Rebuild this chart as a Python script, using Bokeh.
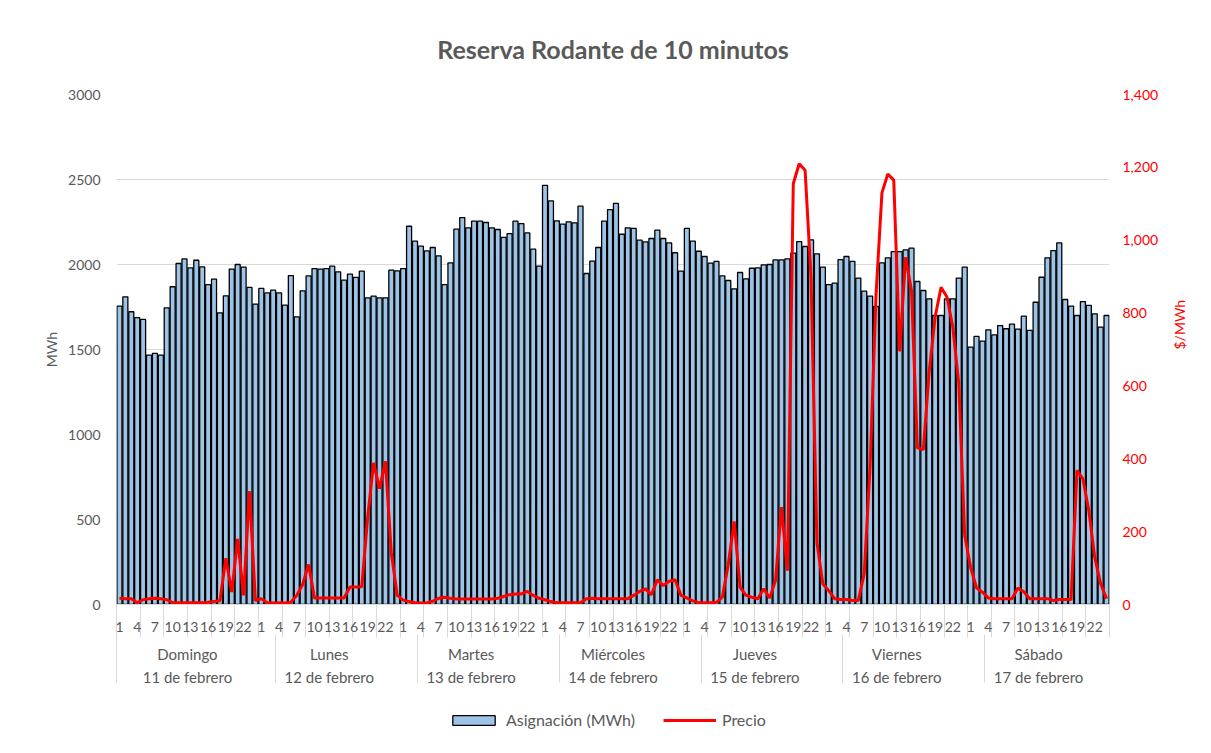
import numpy as np
from bokeh.plotting import figure
from bokeh.layouts import column
from bokeh.models import (Range1d, LinearAxis, FixedTicker, NumeralTickFormatter,
                          Legend, LegendItem, ColumnDataSource)
from bokeh.embed import file_html
from bokeh.resources import INLINE

# ---------------- data ----------------
days = ["Domingo", "Lunes", "Martes", "Miércoles", "Jueves", "Viernes", "Sábado"]
dates = ["11 de febrero", "12 de febrero", "13 de febrero", "14 de febrero",
         "15 de febrero", "16 de febrero", "17 de febrero"]
hour_labels = ["1", "4", "7", "10", "13", "16", "19", "22"]

asig_dom = [1755, 1810, 1722, 1688, 1677, 1467, 1477, 1467, 1745, 1869, 2006, 2033,
            1980, 2025, 1986, 1882, 1914, 1716, 1816, 1973, 2000, 1984, 1865, 1767]
asig_lun = [1859, 1833, 1849, 1833, 1761, 1935, 1692, 1845, 1933, 1976, 1973, 1976,
            1990, 1957, 1908, 1943, 1924, 1961, 1804, 1814, 1804, 1804, 1967, 1963]
asig_mar = [1976, 2225, 2137, 2108, 2080, 2100, 2051, 1882, 2010, 2208, 2276, 2216,
            2255, 2255, 2247, 2216, 2206, 2159, 2182, 2255, 2241, 2186, 2090, 1990]
asig_mie = [2466, 2374, 2257, 2237, 2251, 2245, 2343, 1947, 2020, 2100, 2255, 2323,
            2359, 2178, 2216, 2212, 2143, 2133, 2153, 2202, 2153, 2127, 2069, 1961]
asig_jue = [2212, 2137, 2078, 2047, 2008, 2018, 1933, 1906, 1857, 1953, 1916, 1978,
            1980, 1998, 2000, 2027, 2027, 2033, 2067, 2135, 2106, 2145, 2063, 1984]
asig_vie = [1882, 1890, 2029, 2047, 2018, 1920, 1843, 1814, 1753, 2010, 2039, 2076,
            2076, 2086, 2096, 1900, 1847, 1798, 1700, 1700, 1798, 1798, 1920, 1984]
asig_sab = [1514, 1577, 1549, 1616, 1586, 1641, 1622, 1649, 1620, 1696, 1612, 1778,
            1925, 2039, 2082, 2127, 1794, 1755, 1700, 1782, 1759, 1710, 1632, 1700]

precio_dom = [17, 16, 16, 5, 13, 16, 17, 16, 13, 5, 5, 5,
              5, 5, 5, 6, 8, 10, 127, 34, 180, 25, 311, 11]
precio_lun = [16, 5, 4, 4, 4, 6, 25, 55, 110, 18, 18, 18,
              18, 18, 18, 48, 48, 49, 240, 389, 318, 393, 140, 25]
precio_mar = [12, 8, 5, 4, 4, 9, 17, 20, 17, 15, 15, 15,
              15, 15, 15, 15, 17, 22, 27, 29, 29, 36, 25, 17]
precio_mie = [13, 8, 5, 5, 5, 5, 5, 16, 17, 16, 16, 16,
              16, 16, 16, 25, 36, 43, 27, 68, 52, 64, 68, 25]
precio_jue = [18, 10, 5, 5, 5, 6, 20, 110, 228, 48, 25, 20,
              16, 43, 18, 66, 267, 93, 1155, 1210, 1192, 900, 170, 57]
precio_vie = [38, 16, 14, 14, 11, 11, 84, 380, 850, 1130, 1182, 1165,
              695, 953, 862, 430, 425, 640, 789, 871, 844, 761, 606, 190]
precio_sab = [102, 46, 34, 18, 16, 16, 16, 16, 45, 35, 16, 16,
              16, 16, 11, 14, 14, 14, 368, 345, 258, 130, 57, 16]

asignacion = (asig_dom + asig_lun + asig_mar + asig_mie + asig_jue + asig_vie + asig_sab)
precio = (precio_dom + precio_lun + precio_mar + precio_mie + precio_jue + precio_vie + precio_sab)

# ---------------- styling ----------------
FONT = "Lato"
GRAY = "#595959"
GRID = "#D9D9D9"
RED = "#FF0000"
BLUE = "#9DC3E6"

N = len(asignacion)
ND = len(days)
x = np.arange(N) + 0.5

p = figure(width=1203, height=695,
           x_range=Range1d(0, N), y_range=Range1d(0, 3000),
           x_axis_location=None,
           output_backend="svg", toolbar_location=None,
           min_border_left=116, min_border_right=94,
           min_border_top=94, min_border_bottom=91)
p.outline_line_color = None
p.background_fill_color = "white"
p.xgrid.visible = False

# title
p.title.text = "Reserva Rodante de 10 minutos"
p.title.align = "center"
p.title.text_font = FONT
p.title.text_font_size = "25px"
p.title.text_font_style = "bold"
p.title.text_color = GRAY
p.title.standoff = 62

# left axis
left_ticks = [0, 500, 1000, 1500, 2000, 2500, 3000]
yax = p.yaxis[0]
yax.ticker = FixedTicker(ticks=left_ticks)
yax.axis_line_color = None
yax.major_tick_line_color = None
yax.minor_tick_line_color = None
yax.major_label_standoff = 10
yax.major_label_text_font = FONT
yax.major_label_text_font_size = "14px"
yax.major_label_text_color = GRAY
yax.axis_label = "MWh"
yax.axis_label_standoff = 5
yax.axis_label_text_font = FONT
yax.axis_label_text_font_size = "14px"
yax.axis_label_text_font_style = "normal"
yax.axis_label_text_color = GRAY
p.ygrid.ticker = FixedTicker(ticks=left_ticks)
p.ygrid.grid_line_color = GRID
p.ygrid.grid_line_width = 1

# right axis
p.extra_y_ranges = {"precio": Range1d(0, 1400)}
rax = LinearAxis(y_range_name="precio",
                 ticker=FixedTicker(ticks=[0, 200, 400, 600, 800, 1000, 1200, 1400]),
                 formatter=NumeralTickFormatter(format="0,0"))
rax.axis_line_color = None
rax.major_tick_line_color = None
rax.minor_tick_line_color = None
rax.major_label_standoff = 7
rax.major_label_text_font = FONT
rax.major_label_text_font_size = "14px"
rax.major_label_text_color = RED
rax.axis_label = "$/MWh"
rax.axis_label_standoff = 18
rax.axis_label_orientation = np.pi / 2
rax.axis_label_text_font = FONT
rax.axis_label_text_font_size = "14px"
rax.axis_label_text_font_style = "normal"
rax.axis_label_text_color = RED
p.add_layout(rax, "right")

# hour axis (first category level)
hour_pos = []
hour_map = {}
for d in range(ND):
    for h in hour_labels:
        pos = d * 24 + int(h) - 0.5
        hour_pos.append(pos)
        hour_map[pos] = h
hax = LinearAxis(ticker=FixedTicker(ticks=hour_pos, minor_ticks=list(range(0, N + 1, 4))),
                 major_label_overrides=hour_map)
hax.axis_line_color = GRID
hax.major_tick_line_color = None
hax.minor_tick_line_color = GRID
hax.minor_tick_in = 0
hax.minor_tick_out = 33
hax.major_tick_in = 0
hax.major_tick_out = 0
hax.major_label_standoff = -16
hax.major_label_text_font = FONT
hax.major_label_text_font_size = "14px"
hax.major_label_text_color = GRAY
p.add_layout(hax, "below")

# day axis (second category level)
day_pos = [12 + 24 * d for d in range(ND)]
day_map = {pos: f"{days[i]}\n{dates[i]}" for i, pos in enumerate(day_pos)}
sep_pos = [0] + [26.9 + 24 * k for k in range(ND - 1)]
dax = LinearAxis(ticker=FixedTicker(ticks=day_pos, minor_ticks=sep_pos),
                 major_label_overrides=day_map)
dax.axis_line_color = None
dax.major_tick_line_color = None
dax.minor_tick_line_color = GRID
dax.minor_tick_in = 0
dax.minor_tick_out = 48
dax.major_tick_in = 0
dax.major_tick_out = 0
dax.major_label_standoff = -38
dax.major_label_text_font = FONT
dax.major_label_text_font_size = "15px"
dax.major_label_text_color = GRAY
dax.major_label_text_line_height = 1.3
p.add_layout(dax, "below")

# bars & line
bars = p.vbar(x=x, top=asignacion, width=0.85, bottom=0,
              fill_color=BLUE, line_color="black", line_width=1.3)
line = p.line(x=x, y=precio, y_range_name="precio", line_color=RED, line_width=3)

# legend strip under the chart (keys styled like the series above, non-finite data)
pl = figure(width=1203, height=50, x_range=Range1d(0, 1), y_range=Range1d(0, 1),
            x_axis_location=None, y_axis_location=None,
            output_backend="svg", toolbar_location=None, min_border=0)
pl.outline_line_color = None
pl.grid.visible = False
key_src = ColumnDataSource(data=dict(x=[np.nan], top=[np.nan], y=[np.nan]))
bars_key = pl.vbar(x="x", top="top", width=0.85, bottom=0, source=key_src,
                   fill_color=BLUE, line_color="black", line_width=1.3)
line_key = pl.line(x="x", y="y", source=key_src, line_color=RED, line_width=3)
legend = Legend(items=[LegendItem(label="Asignación (MWh)", renderers=[bars_key]),
                       LegendItem(label="Precio", renderers=[line_key])],
                orientation="horizontal", location=(331, 16),
                border_line_color=None, background_fill_alpha=0,
                label_text_font=FONT, label_text_font_size="16px",
                label_text_color=GRAY, glyph_width=53, glyph_height=12,
                spacing=28, label_standoff=6, margin=0, padding=6)
pl.add_layout(legend)

open("out.html", "w").write(file_html(column(p, pl, spacing=0), INLINE))
